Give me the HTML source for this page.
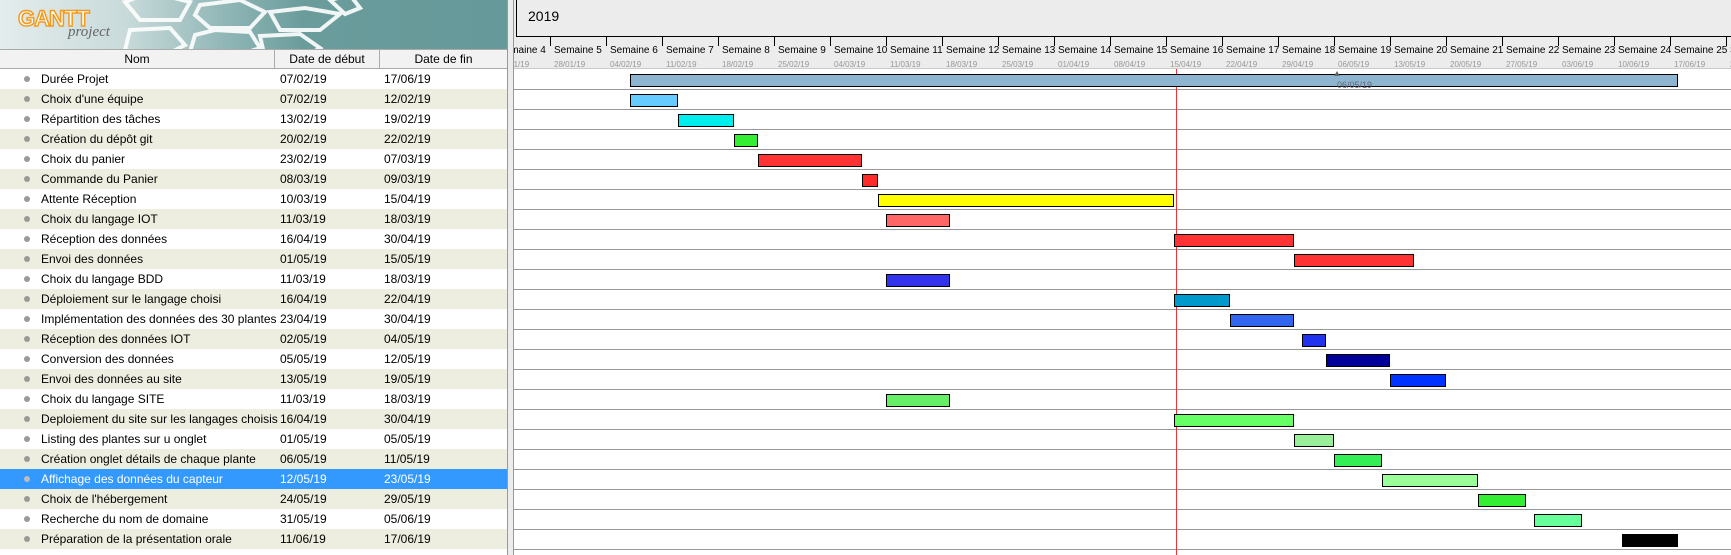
<!DOCTYPE html>
<html><head><meta charset="utf-8"><style>
*{margin:0;padding:0;box-sizing:border-box}
body{width:1731px;height:555px;overflow:hidden;background:#fff;font-family:"Liberation Sans","DejaVu Sans",sans-serif;position:relative}
.a{position:absolute}
.tr{position:absolute;left:0;width:507px;height:20px;font-size:12px;line-height:20px;color:#000}
.tr span{position:absolute}
.tr .b{left:24px;top:7px;width:6px;height:6px;border-radius:50%;background:#999}
.tr .n{left:41px}.tr .d{left:280px}.tr .f{left:384px}
.o{background:#eeeee0}
.sel{background:#3399ff;color:#fff}
.sel .b{background:#bbb}
.bar{position:absolute;height:13px;border:1px solid #000}
.hl{position:absolute;left:514px;width:1217px;height:1px;background:#999}
.wk{position:absolute;top:36px;width:1px;height:10px;background:#000}
.wl{position:absolute;top:45px;font-size:10px;color:#000;white-space:nowrap}
.wd{position:absolute;top:60px;font-size:8px;color:#999;white-space:nowrap}
</style></head><body>
<!-- logo header -->
<div class="a" style="left:0;top:0;width:507px;height:49px;background:linear-gradient(90deg,#e4ecec 0%,#c8dada 25%,#8fb5b5 45%,#6a9c9c 60%,#669999 100%);overflow:hidden">
<svg width="507" height="49" style="position:absolute;left:0;top:0">
<g fill="none" stroke="#fff" stroke-width="4" opacity="0.9">
<polygon points="125,2 150,-8 190,2 180,20 140,20"/>
<polygon points="200,5 240,0 265,12 250,28 210,28 195,15"/>
<polygon points="195,35 215,30 250,32 260,48 230,58 190,52"/>
<polygon points="270,12 305,8 340,14 320,30 280,30"/>
<polygon points="260,36 300,34 320,48 300,60 265,58"/>
<polygon points="330,0 350,-5 360,8 345,14"/>
<polygon points="130,30 170,28 185,45 160,58 125,50"/>
</g></svg>
<div class="a" style="left:18px;top:6px;font-size:22px;font-weight:bold;color:#fff;-webkit-text-stroke:1.5px #f39a1e;letter-spacing:-1px;font-family:'Liberation Sans',sans-serif">GANTT</div>
<div class="a" style="left:68px;top:24px;font-size:15px;font-style:italic;color:#666;font-family:'Liberation Serif',serif">project</div>
</div>
<!-- table header -->
<div class="a" style="left:0;top:49px;width:507px;height:20px;background:#f2f2f2;border-top:1px solid #aaa;border-bottom:1px solid #aaa;font-size:12px;line-height:18px">
<div class="a" style="left:0;width:275px;text-align:center;border-right:1px solid #aaa;height:18px">Nom</div>
<div class="a" style="left:275px;width:105px;text-align:center;border-right:1px solid #aaa;height:18px">Date de début</div>
<div class="a" style="left:380px;width:127px;text-align:center;height:18px">Date de fin</div>
</div>
<div class="tr" style="top:69px"><span class="b"></span><span class="n">Durée Projet</span><span class="d">07/02/19</span><span class="f">17/06/19</span></div>
<div class="tr o" style="top:89px"><span class="b"></span><span class="n">Choix d'une équipe</span><span class="d">07/02/19</span><span class="f">12/02/19</span></div>
<div class="tr" style="top:109px"><span class="b"></span><span class="n">Répartition des tâches</span><span class="d">13/02/19</span><span class="f">19/02/19</span></div>
<div class="tr o" style="top:129px"><span class="b"></span><span class="n">Création du dépôt git</span><span class="d">20/02/19</span><span class="f">22/02/19</span></div>
<div class="tr" style="top:149px"><span class="b"></span><span class="n">Choix du panier</span><span class="d">23/02/19</span><span class="f">07/03/19</span></div>
<div class="tr o" style="top:169px"><span class="b"></span><span class="n">Commande du Panier</span><span class="d">08/03/19</span><span class="f">09/03/19</span></div>
<div class="tr" style="top:189px"><span class="b"></span><span class="n">Attente Réception</span><span class="d">10/03/19</span><span class="f">15/04/19</span></div>
<div class="tr o" style="top:209px"><span class="b"></span><span class="n">Choix du langage IOT</span><span class="d">11/03/19</span><span class="f">18/03/19</span></div>
<div class="tr" style="top:229px"><span class="b"></span><span class="n">Réception des données</span><span class="d">16/04/19</span><span class="f">30/04/19</span></div>
<div class="tr o" style="top:249px"><span class="b"></span><span class="n">Envoi des données</span><span class="d">01/05/19</span><span class="f">15/05/19</span></div>
<div class="tr" style="top:269px"><span class="b"></span><span class="n">Choix du langage BDD</span><span class="d">11/03/19</span><span class="f">18/03/19</span></div>
<div class="tr o" style="top:289px"><span class="b"></span><span class="n">Déploiement sur le langage choisi</span><span class="d">16/04/19</span><span class="f">22/04/19</span></div>
<div class="tr" style="top:309px"><span class="b"></span><span class="n">Implémentation des données des 30 plantes</span><span class="d">23/04/19</span><span class="f">30/04/19</span></div>
<div class="tr o" style="top:329px"><span class="b"></span><span class="n">Réception des données IOT</span><span class="d">02/05/19</span><span class="f">04/05/19</span></div>
<div class="tr" style="top:349px"><span class="b"></span><span class="n">Conversion des données</span><span class="d">05/05/19</span><span class="f">12/05/19</span></div>
<div class="tr o" style="top:369px"><span class="b"></span><span class="n">Envoi des données au site</span><span class="d">13/05/19</span><span class="f">19/05/19</span></div>
<div class="tr" style="top:389px"><span class="b"></span><span class="n">Choix du langage SITE</span><span class="d">11/03/19</span><span class="f">18/03/19</span></div>
<div class="tr o" style="top:409px"><span class="b"></span><span class="n">Deploiement du site sur les langages choisis</span><span class="d">16/04/19</span><span class="f">30/04/19</span></div>
<div class="tr" style="top:429px"><span class="b"></span><span class="n">Listing des plantes sur u onglet</span><span class="d">01/05/19</span><span class="f">05/05/19</span></div>
<div class="tr o" style="top:449px"><span class="b"></span><span class="n">Création onglet détails de chaque plante</span><span class="d">06/05/19</span><span class="f">11/05/19</span></div>
<div class="tr sel" style="top:469px"><span class="b"></span><span class="n">Affichage des données du capteur</span><span class="d">12/05/19</span><span class="f">23/05/19</span></div>
<div class="tr o" style="top:489px"><span class="b"></span><span class="n">Choix de l'hébergement</span><span class="d">24/05/19</span><span class="f">29/05/19</span></div>
<div class="tr" style="top:509px"><span class="b"></span><span class="n">Recherche du nom de domaine</span><span class="d">31/05/19</span><span class="f">05/06/19</span></div>
<div class="tr o" style="top:529px"><span class="b"></span><span class="n">Préparation de la présentation orale</span><span class="d">11/06/19</span><span class="f">17/06/19</span></div>
<!-- splitter -->
<div class="a" style="left:507px;top:0;width:7px;height:555px;background:#ececec;border-left:1px solid #999;border-right:1px solid #999"></div>
<!-- chart header -->
<div class="a" style="left:514px;top:0;width:1217px;height:69px;background:#ececec;border-bottom:1px solid #ccc;overflow:hidden">
<div class="a" style="left:2px;top:0;width:1220px;height:37px;border-left:1px solid #000;border-bottom:1px solid #000"></div>
<div class="a" style="left:14px;top:8px;font-size:14px">2019</div>
</div>
<div class="a" style="left:514px;top:0;width:1217px;height:69px;overflow:hidden">
<div class="wk" style="left:-20px"></div><div class="wl" style="left:-16px">Semaine 4</div><div class="wd" style="left:-16px">21/01/19</div>
<div class="wk" style="left:36px"></div><div class="wl" style="left:40px">Semaine 5</div><div class="wd" style="left:40px">28/01/19</div>
<div class="wk" style="left:92px"></div><div class="wl" style="left:96px">Semaine 6</div><div class="wd" style="left:96px">04/02/19</div>
<div class="wk" style="left:148px"></div><div class="wl" style="left:152px">Semaine 7</div><div class="wd" style="left:152px">11/02/19</div>
<div class="wk" style="left:204px"></div><div class="wl" style="left:208px">Semaine 8</div><div class="wd" style="left:208px">18/02/19</div>
<div class="wk" style="left:260px"></div><div class="wl" style="left:264px">Semaine 9</div><div class="wd" style="left:264px">25/02/19</div>
<div class="wk" style="left:316px"></div><div class="wl" style="left:320px">Semaine 10</div><div class="wd" style="left:320px">04/03/19</div>
<div class="wk" style="left:372px"></div><div class="wl" style="left:376px">Semaine 11</div><div class="wd" style="left:376px">11/03/19</div>
<div class="wk" style="left:428px"></div><div class="wl" style="left:432px">Semaine 12</div><div class="wd" style="left:432px">18/03/19</div>
<div class="wk" style="left:484px"></div><div class="wl" style="left:488px">Semaine 13</div><div class="wd" style="left:488px">25/03/19</div>
<div class="wk" style="left:540px"></div><div class="wl" style="left:544px">Semaine 14</div><div class="wd" style="left:544px">01/04/19</div>
<div class="wk" style="left:596px"></div><div class="wl" style="left:600px">Semaine 15</div><div class="wd" style="left:600px">08/04/19</div>
<div class="wk" style="left:652px"></div><div class="wl" style="left:656px">Semaine 16</div><div class="wd" style="left:656px">15/04/19</div>
<div class="wk" style="left:708px"></div><div class="wl" style="left:712px">Semaine 17</div><div class="wd" style="left:712px">22/04/19</div>
<div class="wk" style="left:764px"></div><div class="wl" style="left:768px">Semaine 18</div><div class="wd" style="left:768px">29/04/19</div>
<div class="wk" style="left:820px"></div><div class="wl" style="left:824px">Semaine 19</div><div class="wd" style="left:824px">06/05/19</div>
<div class="wk" style="left:876px"></div><div class="wl" style="left:880px">Semaine 20</div><div class="wd" style="left:880px">13/05/19</div>
<div class="wk" style="left:932px"></div><div class="wl" style="left:936px">Semaine 21</div><div class="wd" style="left:936px">20/05/19</div>
<div class="wk" style="left:988px"></div><div class="wl" style="left:992px">Semaine 22</div><div class="wd" style="left:992px">27/05/19</div>
<div class="wk" style="left:1044px"></div><div class="wl" style="left:1048px">Semaine 23</div><div class="wd" style="left:1048px">03/06/19</div>
<div class="wk" style="left:1100px"></div><div class="wl" style="left:1104px">Semaine 24</div><div class="wd" style="left:1104px">10/06/19</div>
<div class="wk" style="left:1156px"></div><div class="wl" style="left:1160px">Semaine 25</div><div class="wd" style="left:1160px">17/06/19</div>
<div class="wk" style="left:1212px"></div><div class="wl" style="left:1216px">Semaine 26</div><div class="wd" style="left:1216px">24/06/19</div>
</div>
<!-- row lines -->
<div class="hl" style="top:89px"></div><div class="hl" style="top:109px"></div><div class="hl" style="top:129px"></div><div class="hl" style="top:149px"></div><div class="hl" style="top:169px"></div><div class="hl" style="top:189px"></div><div class="hl" style="top:209px"></div><div class="hl" style="top:229px"></div><div class="hl" style="top:249px"></div><div class="hl" style="top:269px"></div><div class="hl" style="top:289px"></div><div class="hl" style="top:309px"></div><div class="hl" style="top:329px"></div><div class="hl" style="top:349px"></div><div class="hl" style="top:369px"></div><div class="hl" style="top:389px"></div><div class="hl" style="top:409px"></div><div class="hl" style="top:429px"></div><div class="hl" style="top:449px"></div><div class="hl" style="top:469px"></div><div class="hl" style="top:489px"></div><div class="hl" style="top:509px"></div><div class="hl" style="top:529px"></div><div class="hl" style="top:549px"></div>
<!-- today line -->
<div class="a" style="left:1176px;top:69px;width:1px;height:486px;background:#e33"></div>
<!-- bars -->
<div class="bar" style="left:630px;top:74px;width:1048px;background:#8db5cf"></div>
<div class="a" style="left:1334px;top:71px;width:0;height:0;border-left:3px solid transparent;border-right:3px solid transparent;border-bottom:5px solid #666"></div>
<div class="a" style="left:1337px;top:80px;font-size:9px;color:#667">06/05/19</div>
<div class="bar" style="left:630px;top:94px;width:48px;background:#66ccff"></div>
<div class="bar" style="left:678px;top:114px;width:56px;background:#00eeee"></div>
<div class="bar" style="left:734px;top:134px;width:24px;background:#33ee33"></div>
<div class="bar" style="left:758px;top:154px;width:104px;background:#ff3333"></div>
<div class="bar" style="left:862px;top:174px;width:16px;background:#ff2a2a"></div>
<div class="bar" style="left:878px;top:194px;width:296px;background:#ffff00"></div>
<div class="bar" style="left:886px;top:214px;width:64px;background:#ff6666"></div>
<div class="bar" style="left:1174px;top:234px;width:120px;background:#ff3333"></div>
<div class="bar" style="left:1294px;top:254px;width:120px;background:#ff3333"></div>
<div class="bar" style="left:886px;top:274px;width:64px;background:#3333ee"></div>
<div class="bar" style="left:1174px;top:294px;width:56px;background:#0099cc"></div>
<div class="bar" style="left:1230px;top:314px;width:64px;background:#3366ee"></div>
<div class="bar" style="left:1302px;top:334px;width:24px;background:#2233ee"></div>
<div class="bar" style="left:1326px;top:354px;width:64px;background:#000099"></div>
<div class="bar" style="left:1390px;top:374px;width:56px;background:#0033ff"></div>
<div class="bar" style="left:886px;top:394px;width:64px;background:#66ee66"></div>
<div class="bar" style="left:1174px;top:414px;width:120px;background:#66ff66"></div>
<div class="bar" style="left:1294px;top:434px;width:40px;background:#99ee99"></div>
<div class="bar" style="left:1334px;top:454px;width:48px;background:#33ee55"></div>
<div class="bar" style="left:1382px;top:474px;width:96px;background:#99ff99"></div>
<div class="bar" style="left:1478px;top:494px;width:48px;background:#33ee33"></div>
<div class="bar" style="left:1534px;top:514px;width:48px;background:#66ff99"></div>
<div class="bar" style="left:1622px;top:534px;width:56px;background:#000"></div>
</body></html>
